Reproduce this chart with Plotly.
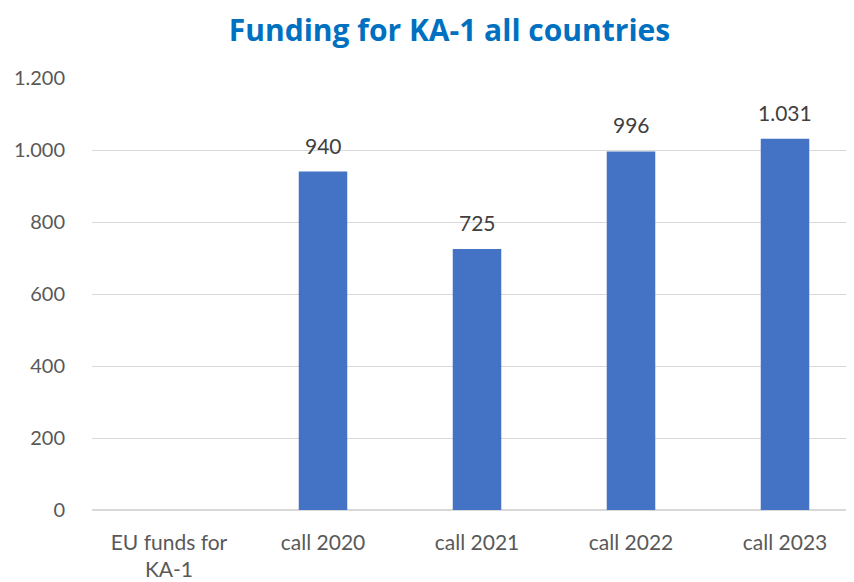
import plotly.graph_objects as go

categories = ["EU funds for<br>KA-1", "call 2020", "call 2021", "call 2022", "call 2023"]
funding = [None, 940, 725, 996, 1031]
y_ticks = [0, 200, 400, 600, 800, 1000, 1200]

def fmt(v):
    if v is None:
        return ""
    return f"{v:,.0f}".replace(",", ".")

labels = [fmt(v) for v in funding]

fig = go.Figure(go.Bar(
    x=categories, y=funding,
    marker=dict(color="#4472C4", line=dict(width=0)),
    hoverinfo="x+y",
))

for c, v, t in zip(categories, funding, labels):
    if v is None:
        continue
    fig.add_annotation(x=c, y=v, text=t, showarrow=False, yanchor="bottom", yshift=12,
                       font=dict(size=21, color="#404040", family="Lato, 'Open Sans', sans-serif"))

fig.update_layout(
    width=854, height=582,
    margin=dict(l=84, r=0, t=70, b=80, autoexpand=False),
    paper_bgcolor="white", plot_bgcolor="white",
    font=dict(family="Lato, 'Open Sans', sans-serif", color="#595959", size=20),
    separators=",.",
    bargap=0.685,
    showlegend=False,
    title=dict(text="<b>Funding for KA-1 all countries</b>", x=0.517, xanchor="center",
               y=0.961, yanchor="middle",
               font=dict(size=30, color="#0070C0", family="'Open Sans', Lato, sans-serif")),
    yaxis=dict(range=[0, 1200], tickvals=y_ticks, separatethousands=True, tickformat=",d",
               showgrid=True, gridcolor="#D9D9D9", gridwidth=1, zeroline=True,
               zerolinecolor="#D9D9D9", zerolinewidth=1.5, ticks="", ticklabelstandoff=26,
               showline=False, automargin=False, tickfont=dict(size=20)),
    xaxis=dict(showgrid=False, ticks="", showline=False, ticklabelstandoff=18,
               automargin=False, tickfont=dict(size=21)),
)

fig.write_html("out.html")
